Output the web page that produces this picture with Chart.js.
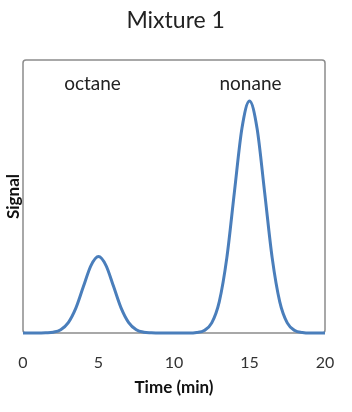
<!DOCTYPE html>
<html>
<head>
<meta charset="utf-8">
<script src="https://cdn.jsdelivr.net/npm/chart.js@4"></script>
<style>
    html, body { margin: 0; padding: 0; background: #fff; }
    #wrap { width: 352px; height: 412px; }
</style>
</head>
<body>
<div id="wrap"><canvas id="my-chart"></canvas></div>
<script>
// retention time (min) and detector signal
const times = [
    0, 0.5, 1, 1.5, 2, 2.5, 3, 3.5, 4, 4.5,
    5, 5.5, 6, 6.5, 7, 7.5, 8, 8.5, 9, 9.5,
    10, 10.5, 11, 11.5, 12, 12.5, 13, 13.5, 14, 14.5,
    15, 15.5, 16, 16.5, 17, 17.5, 18, 18.5, 19, 19.5, 20
];
const signal = [
    0, 0, 0, 0.001, 0.003, 0.012, 0.038, 0.091, 0.170, 0.247,
    0.280, 0.247, 0.170, 0.091, 0.038, 0.012, 0.003, 0.001, 0, 0,
    0, 0, 0, 0.002, 0.009, 0.037, 0.115, 0.276, 0.516, 0.750,
    0.850, 0.750, 0.516, 0.276, 0.115, 0.037, 0.009, 0.002, 0, 0, 0
];
const peakNames = ["octane", "nonane"];
const peakTimes = [5, 15];
const xTicks = [0, 5, 10, 15, 20];

const myChart = document.getElementById("my-chart");

// frame round the plot area + peak names
const plotBox = {
    id: "plotBox",
    beforeDatasetsDraw(chart) {
        const { ctx, chartArea: a } = chart;
        ctx.save();
        ctx.strokeStyle = "#8c8c8c";
        ctx.lineWidth = 1.5;
        ctx.beginPath();
        ctx.roundRect(a.left, a.top, a.right - a.left, a.bottom - a.top, 3);
        ctx.stroke();
        ctx.restore();
    },
    afterDatasetsDraw(chart) {
        const { ctx, chartArea: a, scales } = chart;
        const nudge = [-6, 1];
        ctx.save();
        ctx.font = "19px Lato";
        ctx.fillStyle = "#222";
        ctx.textAlign = "center";
        ctx.textBaseline = "middle";
        peakNames.forEach((name, i) => {
            const x = scales.x.getPixelForValue(peakTimes[i]) + nudge[i];
            ctx.fillText(name, x, a.top + 24);
        });
        ctx.restore();
    }
};

new Chart(myChart, {
    type: "line",
    data: {
        labels: times,
        datasets: [
            {
                label: "Signal",
                data: times.map((t, i) => ({ x: t, y: signal[i] })),
                borderColor: "#4a7ebb",
                borderWidth: 3,
                pointRadius: 0,
                cubicInterpolationMode: "monotone",
                fill: false,
                clip: 6,
            },
        ],
    },
    options: {
        responsive: true,
        maintainAspectRatio: false,
        animation: false,
        layout: { padding: { left: 2, right: 2.7, top: 0, bottom: 0 }, autoPadding: false },
        plugins: {
            legend: { display: false },
            tooltip: { enabled: false },
            title: {
                display: true,
                text: "Mixture 1",
                color: "#222",
                font: { family: "Lato", size: 23, weight: "normal" },
                padding: { top: 7.2, bottom: 25.2 },
            },
        },
        scales: {
            x: {
                type: "linear",
                min: 0,
                max: 20,
                afterBuildTicks: s => { s.ticks = xTicks.map(v => ({ value: v })); },
                afterFit: s => { s.height = 79; },
                grid: { display: false },
                border: { display: false },
                ticks: {
                    color: "#333",
                    padding: 12.4,
                    maxRotation: 0,
                    font: { family: "Lato", size: 16 },
                },
                title: {
                    display: true,
                    text: "Time (min)",
                    color: "#111",
                    font: { family: "Lato", size: 17, weight: "bold" },
                    padding: { top: 0, bottom: 13.8 },
                },
            },
            y: {
                min: 0,
                max: 1,
                afterFit: s => { s.width = 21; },
                grid: { display: false },
                border: { display: false },
                ticks: { display: false },
                title: {
                    display: true,
                    text: "Signal",
                    color: "#111",
                    font: { family: "Lato", size: 17, weight: "bold" },
                    padding: { top: 1.8, bottom: 0 },
                },
            },
            y2: {
                position: "right",
                min: 0,
                max: 1,
                afterFit: s => { s.width = 24.3; },
                grid: { display: false },
                border: { display: false },
                ticks: { display: false },
            },
        },
    },
    plugins: [plotBox],
});
</script>
</body>
</html>
